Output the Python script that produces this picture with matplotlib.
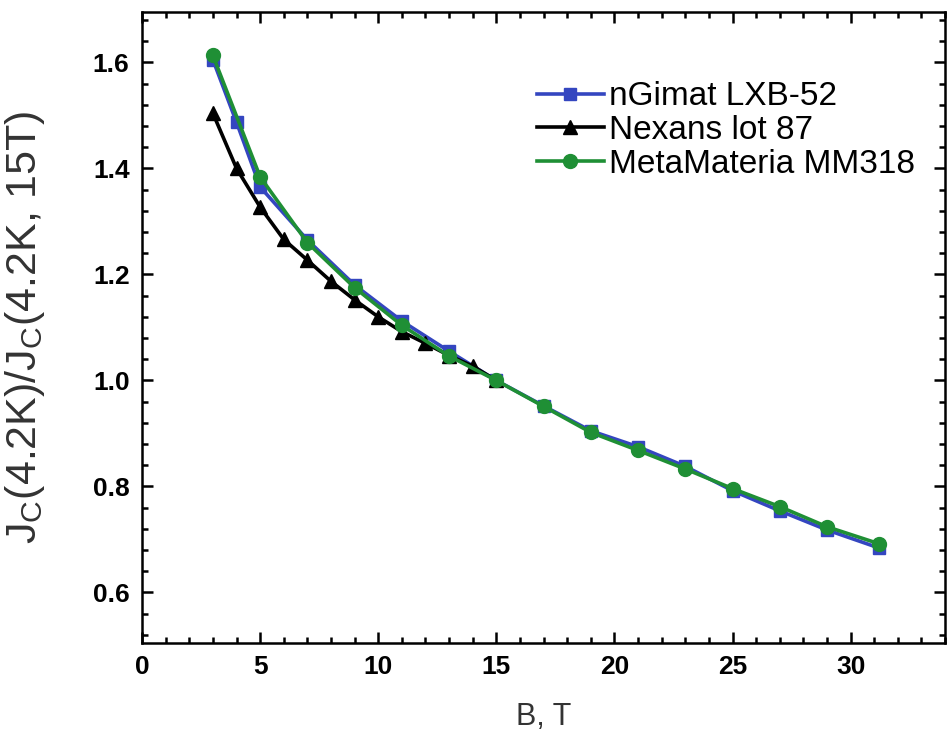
import matplotlib.pyplot as plt
from matplotlib.ticker import MultipleLocator
from matplotlib.lines import Line2D

plt.rcParams['font.family'] = ['Liberation Sans', 'DejaVu Sans']
plt.rcParams['mathtext.fontset'] = 'custom'
plt.rcParams['mathtext.rm'] = 'Liberation Sans'
plt.rcParams['mathtext.it'] = 'Liberation Sans'

# Data
b_ngimat = [3, 4, 5, 7, 9, 11, 13, 15, 17, 19, 21, 23, 25, 27, 29, 31.2]
jc_ngimat = [1.605, 1.487, 1.365, 1.265, 1.180, 1.112, 1.055, 1.000,
             0.952, 0.905, 0.875, 0.838, 0.792, 0.754, 0.718, 0.684]

b_nexans = [3, 4, 5, 6, 7, 8, 9, 10, 11, 12, 13, 14, 15]
jc_nexans = [1.504, 1.400, 1.327, 1.266, 1.227, 1.187, 1.152, 1.120,
             1.092, 1.070, 1.047, 1.027, 1.000]

b_meta = [3, 5, 7, 9, 11, 13, 15, 17, 19, 21, 23, 25, 27, 29, 31.2]
jc_meta = [1.613, 1.384, 1.260, 1.175, 1.104, 1.046, 1.000, 0.951,
           0.902, 0.868, 0.833, 0.796, 0.762, 0.724, 0.692]

labels = ['nGimat LXB-52', 'Nexans lot 87', 'MetaMateria MM318']
colors = ['#3446c0', '#000000', '#1f8f35']

fig = plt.figure(figsize=(9.47, 7.51), dpi=100)
ax = fig.add_axes([0.150, 0.144, 0.848, 0.840])

ax.plot(b_ngimat, jc_ngimat, color=colors[0], marker='s', ms=9, lw=2.6)
ax.plot(b_nexans, jc_nexans, color=colors[1], marker='^', ms=10, lw=2.6)
ax.plot(b_meta, jc_meta, color=colors[2], marker='o', ms=10, lw=2.6)

ax.set_xlim(0, 34)
ax.set_ylim(0.505, 1.695)
ax.xaxis.set_major_locator(MultipleLocator(5))
ax.xaxis.set_minor_locator(MultipleLocator(1))
ax.yaxis.set_major_locator(MultipleLocator(0.2))
ax.yaxis.set_minor_locator(MultipleLocator(0.04))
ax.yaxis.set_major_formatter(plt.FormatStrFormatter('%.1f'))

ax.tick_params(which='both', direction='in', top=True, right=True, width=1.8)
ax.tick_params(which='major', length=8, labelsize=19, pad=9)
ax.tick_params(which='minor', length=4)
for lab in ax.get_yticklabels():
    lab.set_fontweight('bold')
for lab in ax.get_xticklabels():
    lab.set_fontweight('bold')
for sp in ax.spines.values():
    sp.set_linewidth(1.8)

ax.set_xlabel('B, T', fontsize=22, labelpad=16, color='#333333')
ax.set_ylabel(r'J$_\mathrm{C}$(4.2K)/J$_\mathrm{C}$(4.2K, 15T)', fontsize=31,
              color='#333333')
ax.yaxis.set_label_coords(-0.118, 0.5)

handles = [
    Line2D([], [], color=colors[0], marker='s', ms=9, lw=2.6),
    Line2D([], [], color=colors[1], marker='^', ms=10, lw=2.6),
    Line2D([], [], color=colors[2], marker='o', ms=10, lw=2.6),
]
ax.legend(handles, labels, loc='upper right', bbox_to_anchor=(0.962, 0.89),
          frameon=False, fontsize=24, handlelength=2.0, handletextpad=0.15,
          labelspacing=0.08, borderaxespad=0, borderpad=0)

fig.savefig('out.png', dpi=100)
